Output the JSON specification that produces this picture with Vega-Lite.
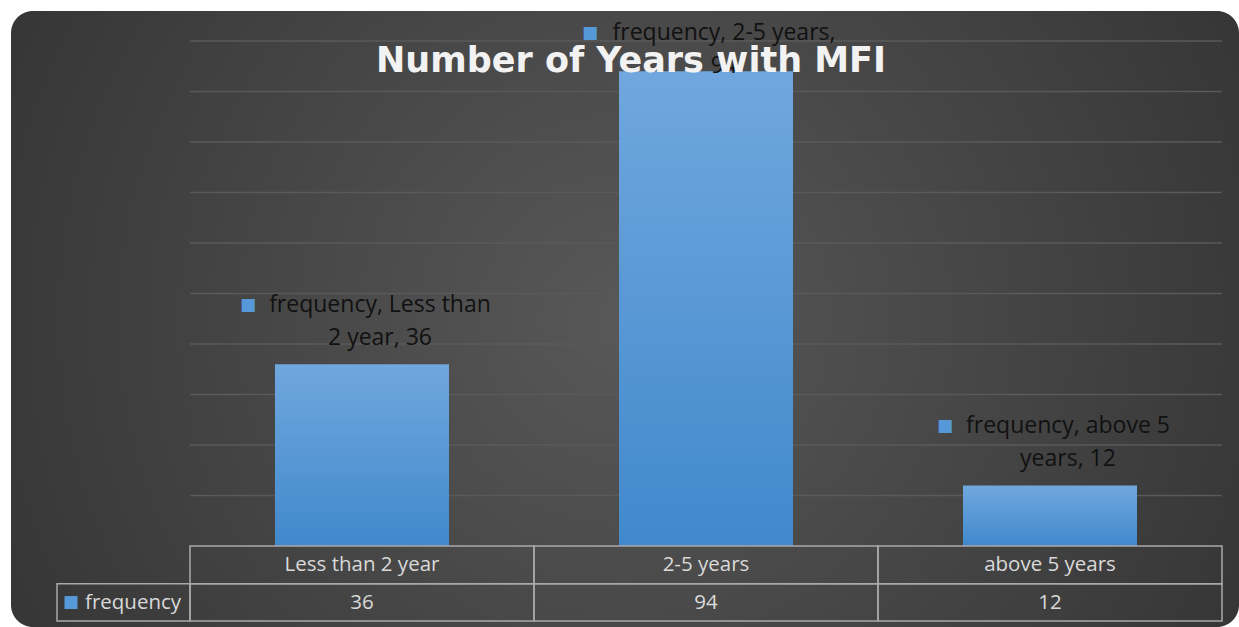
{
  "$schema": "https://vega.github.io/schema/vega-lite/v6.json",
  "width": 1228,
  "height": 616,
  "autosize": {"type": "none"},
  "padding": {"left": 11, "top": 11, "right": 0, "bottom": 0},
  "background": "#ffffff",
  "config": {
    "view": {
      "stroke": null,
      "cornerRadius": 22,
      "fill": {
        "gradient": "radial",
        "x1": 0.5, "y1": 0.5, "r1": 0,
        "x2": 0.5, "y2": 0.5, "r2": 0.75,
        "stops": [
          {"offset": 0, "color": "#585858"},
          {"offset": 1, "color": "#2a2a2a"}
        ]
      }
    },
    "font": "Open Sans"
  },
  "title": {
    "text": "Number of Years with MFI",
    "orient": "top",
    "anchor": "middle",
    "frame": "group",
    "offset": -96,
    "baseline": "alphabetic",
    "dx": 6,
    "font": "DejaVu Sans",
    "fontSize": 35,
    "fontWeight": "bold",
    "color": "#f2f2f2",
    "limit": 0
  },
  "datasets": {
    "bars": [
      {"category": "Less than 2 year", "col": 1, "frequency": 36, "label": ["frequency, Less than", "2 year, 36"]},
      {"category": "2-5 years", "col": 2, "frequency": 94, "label": ["frequency, 2-5 years,", "94"]},
      {"category": "above 5 years", "col": 3, "frequency": 12, "label": ["frequency, above 5", "years, 12"]}
    ],
    "grid": [
      {"g": 10}, {"g": 20}, {"g": 30}, {"g": 40}, {"g": 50},
      {"g": 60}, {"g": 70}, {"g": 80}, {"g": 90}, {"g": 100}
    ],
    "series": [{"series": "frequency"}]
  },
  "layer": [
    {
      "data": {"name": "grid"},
      "mark": {"type": "rule", "color": "#5a5a5a", "strokeWidth": 1.5},
      "encoding": {
        "y": {"field": "g", "type": "quantitative", "scale": {"domain": [-16.04, 105.94], "nice": false, "zero": false, "padding": 0}, "axis": null},
        "x": {"datum": 0.5, "type": "quantitative", "scale": {"domain": [-0.0203, 3.5494], "nice": false, "zero": false, "padding": 0}, "axis": null},
        "x2": {"datum": 3.5}
      }
    },
    {
      "data": {"name": "bars"},
      "mark": {
        "type": "bar",
        "size": 174,
        "fill": {
          "gradient": "linear",
          "x1": 0, "y1": 0, "x2": 0, "y2": 1,
          "stops": [
            {"offset": 0, "color": "#70a7de"},
            {"offset": 1, "color": "#4189cc"}
          ]
        }
      },
      "encoding": {
        "x": {"field": "col", "type": "quantitative"},
        "y": {"field": "frequency", "type": "quantitative"},
        "y2": {"datum": 0}
      }
    },
    {
      "data": {"name": "bars"},
      "mark": {"type": "bar", "size": 344, "fill": null, "fillOpacity": 0, "stroke": "#a9a9a9", "strokeWidth": 1.5},
      "encoding": {
        "x": {"field": "col", "type": "quantitative"},
        "y": {"datum": 0},
        "y2": {"datum": -7.5}
      }
    },
    {
      "data": {"name": "bars"},
      "mark": {"type": "bar", "size": 344, "fill": null, "fillOpacity": 0, "stroke": "#a9a9a9", "strokeWidth": 1.5},
      "encoding": {
        "x": {"field": "col", "type": "quantitative"},
        "y": {"datum": -7.5},
        "y2": {"datum": -14.85}
      }
    },
    {
      "data": {"name": "series"},
      "mark": {"type": "rect", "fill": null, "fillOpacity": 0, "stroke": "#a9a9a9", "strokeWidth": 1.5},
      "encoding": {
        "x": {"datum": 0.1134},
        "x2": {"datum": 0.5},
        "y": {"datum": -7.5},
        "y2": {"datum": -14.85}
      }
    },
    {
      "data": {"name": "series"},
      "mark": {"type": "point", "shape": "square", "filled": true, "size": 169, "color": "#5599d8", "opacity": 1},
      "encoding": {
        "x": {"datum": 0.1541},
        "y": {"datum": -11.2}
      }
    },
    {
      "data": {"name": "series"},
      "mark": {"type": "text", "align": "left", "baseline": "middle", "fontSize": 20.5, "color": "#d9d9d9"},
      "encoding": {
        "x": {"datum": 0.1948},
        "y": {"datum": -11.2},
        "text": {"field": "series"}
      }
    },
    {
      "data": {"name": "bars"},
      "mark": {"type": "text", "align": "center", "baseline": "middle", "fontSize": 20.5, "color": "#d9d9d9"},
      "encoding": {
        "x": {"field": "col", "type": "quantitative"},
        "y": {"datum": -3.76},
        "text": {"field": "category"}
      }
    },
    {
      "data": {"name": "bars"},
      "mark": {"type": "text", "align": "center", "baseline": "middle", "fontSize": 20.5, "color": "#d9d9d9"},
      "encoding": {
        "x": {"field": "col", "type": "quantitative"},
        "y": {"datum": -11.2},
        "text": {"field": "frequency"}
      }
    },
    {
      "data": {"name": "bars"},
      "transform": [{"filter": "datum.col != 2"}],
      "mark": {"type": "text", "align": "center", "baseline": "middle", "fontSize": 23, "lineHeight": 33, "dx": 18, "dy": -59, "color": "#111111"},
      "encoding": {
        "x": {"field": "col", "type": "quantitative"},
        "y": {"field": "frequency", "type": "quantitative"},
        "text": {"field": "label"}
      }
    },
    {
      "data": {"name": "bars"},
      "transform": [{"filter": "datum.col == 2"}],
      "mark": {"type": "text", "align": "center", "baseline": "middle", "fontSize": 23, "lineHeight": 33, "dx": 18, "dy": -38, "color": "#111111"},
      "encoding": {
        "x": {"field": "col", "type": "quantitative"},
        "y": {"field": "frequency", "type": "quantitative"},
        "text": {"field": "label"}
      }
    },
    {
      "data": {"name": "bars"},
      "transform": [{"filter": "datum.col == 1"}],
      "mark": {"type": "text", "text": "■", "font": "DejaVu Sans", "fontSize": 17, "align": "center", "baseline": "middle", "color": "#5599d8", "dx": -114, "dy": -59},
      "encoding": {
        "x": {"field": "col", "type": "quantitative"},
        "y": {"field": "frequency", "type": "quantitative"}
      }
    },
    {
      "data": {"name": "bars"},
      "transform": [{"filter": "datum.col == 2"}],
      "mark": {"type": "text", "text": "■", "font": "DejaVu Sans", "fontSize": 17, "align": "center", "baseline": "middle", "color": "#5599d8", "dx": -116, "dy": -38},
      "encoding": {
        "x": {"field": "col", "type": "quantitative"},
        "y": {"field": "frequency", "type": "quantitative"}
      }
    },
    {
      "data": {"name": "bars"},
      "transform": [{"filter": "datum.col == 3"}],
      "mark": {"type": "text", "text": "■", "font": "DejaVu Sans", "fontSize": 17, "align": "center", "baseline": "middle", "color": "#5599d8", "dx": -105, "dy": -59},
      "encoding": {
        "x": {"field": "col", "type": "quantitative"},
        "y": {"field": "frequency", "type": "quantitative"}
      }
    }
  ]
}
